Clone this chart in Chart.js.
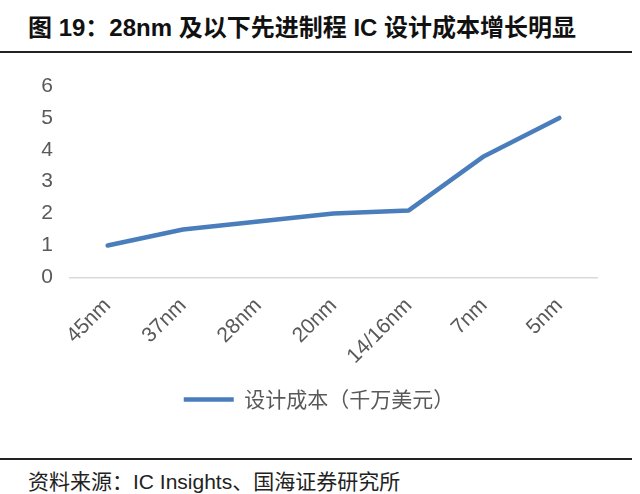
<!DOCTYPE html>
<html>
<head>
<meta charset="utf-8">
<script src="https://cdn.jsdelivr.net/npm/chart.js@4"></script>
<style>
  body { margin: 0; width: 640px; height: 494px; background: #fff; position: relative; overflow: hidden; }
  #title { position: absolute; left: 28px; top: 8px; font: bold 24px "Liberation Sans", "Noto Sans CJK SC", sans-serif; color: #111; white-space: nowrap; }
  #title-rule { position: absolute; left: 0; top: 51px; width: 632px; height: 2px; background: #222; }
  #source-rule { position: absolute; left: 0; top: 458px; width: 632px; height: 2px; background: #222; }
  #source { position: absolute; left: 28px; top: 465px; font: 21px "Liberation Sans", "Noto Sans CJK SC", sans-serif; color: #222; white-space: nowrap; }
  #wrap { position: absolute; left: 0; top: 56px; width: 640px; height: 384px; }
</style>
</head>
<body>
<div id="title">图 19：28nm 及以下先进制程 IC 设计成本增长明显</div>
<div id="title-rule"></div>
<div id="wrap"><canvas id="chart"></canvas></div>
<div id="source-rule"></div>
<div id="source">资料来源：IC Insights、国海证券研究所</div>
<script>
// 工艺节点
var nodes = ["45nm", "37nm", "28nm", "20nm", "14/16nm", "7nm", "5nm"];
// 设计成本（千万美元）
var design_cost = [1.0, 1.5, 1.75, 2.0, 2.1, 3.8, 5.0];
var series_name = "设计成本（千万美元）";
var y_ticks_max = 6;

var ctx = document.getElementById("chart").getContext("2d");
var myChart = new Chart(ctx, {
    type: "line",
    data: {
        labels: nodes,
        datasets: [{
            label: series_name,
            data: design_cost,
            borderColor: '#4a7dbb',
            backgroundColor: '#4a7dbb',
            borderWidth: 4.5,
            borderCapStyle: 'round',
            borderJoinStyle: 'round',
            pointRadius: 0,
            pointStyle: 'line',
            tension: 0,
        }],
    },
    options: {
        responsive: true,
        maintainAspectRatio: false,
        animation: false,
        layout: {
            padding: { top: 30, left: 41, right: 43, bottom: 20 }
        },
        plugins: {
            legend: {
                position: 'bottom',
                labels: {
                    usePointStyle: true,
                    pointStyleWidth: 50,
                    color: '#595959',
                    padding: 4,
                    font: { family: '"Noto Sans CJK SC", sans-serif', size: 21 },
                },
            },
            tooltip: { enabled: false },
        },
        scales: {
            x: {
                offset: true,
                grid: { display: false, drawTicks: false },
                border: { display: true, color: '#d9d9d9', width: 1.5 },
                ticks: {
                    color: '#595959',
                    minRotation: 45,
                    maxRotation: 45,
                    padding: 16,
                    font: { family: '"Liberation Sans", sans-serif', size: 21 },
                },
                afterFit: function(scale) {
                    // 斜标签不再挤占左右边距
                    scale.paddingLeft = 0;
                    scale.paddingRight = 0;
                },
            },
            y: {
                min: 0,
                max: y_ticks_max,
                grid: { display: false, drawTicks: false },
                border: { display: false },
                ticks: {
                    stepSize: 1,
                    color: '#595959',
                    padding: 17,
                    font: { family: '"Liberation Sans", sans-serif', size: 21 },
                },
                afterFit: function(scale) {
                    scale.width = 29;
                },
            },
        },
    },
});
</script>
</body>
</html>
